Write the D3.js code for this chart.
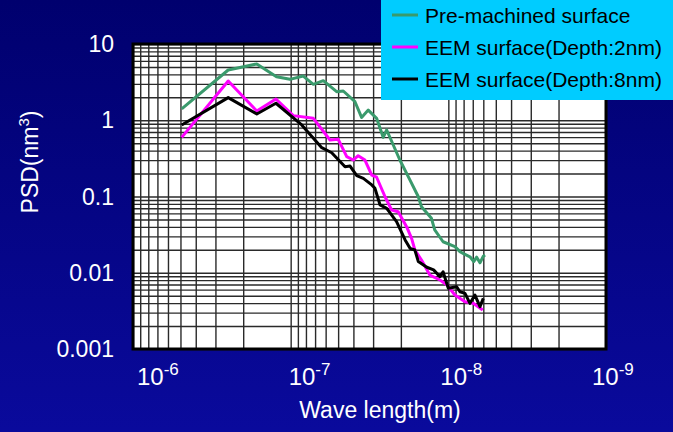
<!DOCTYPE html>
<html>
<head>
<meta charset="utf-8">
<script src="https://cdn.jsdelivr.net/npm/d3@7"></script>
<style>
  html, body { margin: 0; padding: 0; background: #00007a; }
  svg { display: block; }
  .lbl { fill: white; font-family: "Liberation Sans", sans-serif; }
  .leg { fill: black; font-family: "Liberation Sans", sans-serif; }
</style>
</head>
<body>
<div id="chart"></div>
<script>
// wave length (m) / PSD (nm^3)
var preLambda = [4.91e-7, 2.49e-7, 1.64e-7, 1.23e-7, 1.01e-7, 8.32e-8, 7.18e-8, 6.21e-8, 5.11e-8, 4.64e-8,
  3.91e-8, 3.55e-8, 3.22e-8, 2.85e-8, 2.59e-8, 2.46e-8, 2.03e-8, 1.75e-8, 1.55e-8, 1.48e-8,
  1.28e-8, 1.22e-8, 1.08e-8, 9.08e-9, 8.44e-9, 7.9e-9, 7.29e-9, 6.9e-9, 6.61e-9, 6.3e-9, 6.0e-9, 5.85e-9];
var prePSD = [1.41, 4.56, 5.47, 3.73, 3.44, 3.80, 2.96, 3.30, 2.37, 2.42,
  1.75, 1.09, 1.36, 1.06, 0.597, 0.745, 0.301, 0.164, 0.0993, 0.0735,
  0.0518, 0.0364, 0.0255, 0.0220, 0.0189, 0.0175, 0.0162, 0.0140, 0.0160, 0.0135, 0.0165, 0.0171];

var eem2Lambda = [4.91e-7, 2.49e-7, 1.64e-7, 1.24e-7, 9.62e-8, 7.18e-8, 5.63e-8, 4.99e-8, 4.41e-8, 4.01e-8,
  3.73e-8, 3.38e-8, 3.06e-8, 2.85e-8, 2.52e-8, 2.29e-8, 2.08e-8, 1.84e-8, 1.71e-8, 1.63e-8,
  1.48e-8, 1.31e-8, 1.13e-8, 1.02e-8, 9.08e-9, 7.84e-9, 6.95e-9, 6.05e-9];
var eem2PSD = [0.597, 3.27, 1.32, 1.90, 1.15, 1.06, 0.551, 0.562, 0.333, 0.301,
  0.343, 0.301, 0.191, 0.179, 0.0993, 0.0665, 0.0632, 0.0402, 0.0283, 0.0199,
  0.0147, 0.00933, 0.00803, 0.00691, 0.00510, 0.00417, 0.00397, 0.00324];

var eem8Lambda = [4.91e-7, 2.49e-7, 1.64e-7, 1.24e-7, 8.51e-8, 6.35e-8, 5.49e-8, 4.52e-8, 4.20e-8, 3.81e-8,
  3.46e-8, 3.06e-8, 2.92e-8, 2.71e-8, 2.46e-8, 2.13e-8, 1.88e-8, 1.75e-8, 1.63e-8, 1.55e-8,
  1.37e-8, 1.24e-8, 1.13e-8, 1.08e-8, 1.00e-8, 8.85e-9, 8.44e-9, 7.84e-9, 7.29e-9, 6.78e-9,
  6.30e-9, 6.00e-9];
var eem8PSD = [0.867, 1.98, 1.21, 1.67, 0.867, 0.437, 0.375, 0.246, 0.251, 0.188,
  0.173, 0.142, 0.128, 0.0775, 0.0700, 0.0468, 0.0269, 0.0209, 0.0199, 0.0140,
  0.0118, 0.0109, 0.00888, 0.0103, 0.00625, 0.00656, 0.00564, 0.00537, 0.00397, 0.00510,
  0.00359, 0.00462];

var seriesNames = ["Pre-machined surface", "EEM surface(Depth:2nm)", "EEM surface(Depth:8nm)"];
var seriesColors = ["#3a9a6c", "#ff00ff", "#000000"];
var xTickExp = [-6, -7, -8, -9];
var yTickVals = [10, 1, 0.1, 0.01, 0.001];
var yTickText = ["10", "1", "0.1", "0.01", "0.001"];

var svgWidth = 673, svgHeight = 432;
var margin = { top: 44, right: 67, bottom: 83, left: 133 };
var width = svgWidth - margin.left - margin.right;
var height = svgHeight - margin.top - margin.bottom;

var svg = d3.select("#chart").append("svg")
  .attr("width", svgWidth)
  .attr("height", svgHeight);

var grad = svg.append("defs").append("linearGradient")
  .attr("id", "bg").attr("x1", 0).attr("y1", 0).attr("x2", 0).attr("y2", 1);
grad.append("stop").attr("offset", "0%").attr("stop-color", "#00006e");
grad.append("stop").attr("offset", "100%").attr("stop-color", "#0a0a9c");

svg.append("rect").attr("width", svgWidth).attr("height", svgHeight).attr("fill", "url(#bg)");

var chartGroup = svg.append("g")
  .attr("transform", `translate(${margin.left}, ${margin.top})`);

var xScale = d3.scaleLog().domain([1e-6, 1e-9]).range([0, width]);
var yScale = d3.scaleLog().domain([0.001, 10]).range([height, 0]);

chartGroup.append("rect").attr("width", width).attr("height", height).attr("fill", "white");

// grid lines (1..9 per decade)
chartGroup.append("g")
  .attr("transform", `translate(0, ${height})`)
  .call(d3.axisBottom(xScale).ticks(30).tickSize(-height).tickFormat(""))
  .call(g => g.select(".domain").remove())
  .selectAll("line").attr("stroke", "#2a2a2a").attr("stroke-width", 1.4);

chartGroup.append("g")
  .call(d3.axisLeft(yScale).ticks(40).tickSize(-width).tickFormat(""))
  .call(g => g.select(".domain").remove())
  .selectAll("line").attr("stroke", "#2a2a2a").attr("stroke-width", 1.4);

// curves
var lineGen = d3.line().x(d => xScale(d[0])).y(d => yScale(d[1]));
var allSeries = [
  d3.zip(preLambda, prePSD),
  d3.zip(eem2Lambda, eem2PSD),
  d3.zip(eem8Lambda, eem8PSD)
];
chartGroup.selectAll("path.series")
  .data(allSeries)
  .enter()
  .append("path")
  .attr("class", "series")
  .attr("d", lineGen)
  .attr("fill", "none")
  .attr("stroke", (d, i) => seriesColors[i])
  .attr("stroke-width", 3)
  .attr("stroke-linejoin", "round");

// frame
chartGroup.append("rect").attr("width", width).attr("height", height)
  .attr("fill", "none").attr("stroke", "black").attr("stroke-width", 3);

// y tick labels
svg.append("g").selectAll("text")
  .data(yTickVals)
  .enter()
  .append("text")
  .attr("class", "lbl")
  .attr("x", margin.left - 19)
  .attr("y", d => margin.top + yScale(d) + 8)
  .attr("text-anchor", "end")
  .attr("font-size", 23)
  .text((d, i) => yTickText[i]);

// x tick labels 10^n (the slide spaces them a little tighter than the decades)
var labelX = d3.scaleLinear().domain([-6, -9]).range([137, 592]);
var xl = svg.append("g").selectAll("text")
  .data(xTickExp)
  .enter()
  .append("text")
  .attr("class", "lbl")
  .attr("x", d => labelX(d))
  .attr("y", 385)
  .attr("font-size", 24);
xl.append("tspan").text("10");
xl.append("tspan").attr("dy", -10).attr("font-size", 17).text(d => d);

// axis titles
svg.append("text")
  .attr("class", "lbl")
  .attr("x", 380)
  .attr("y", 418)
  .attr("text-anchor", "middle")
  .attr("font-size", 23)
  .text("Wave length(m)");

var yt = svg.append("text")
  .attr("class", "lbl")
  .attr("transform", "translate(38, 162) rotate(-90)")
  .attr("text-anchor", "middle")
  .attr("font-size", 23);
yt.append("tspan").text("PSD(nm");
yt.append("tspan").attr("dy", -9).attr("font-size", 15).text("3");
yt.append("tspan").attr("dy", 9).text(")");

// legend
var legend = svg.append("g").attr("transform", "translate(381, 0)");
legend.append("rect").attr("width", 300).attr("height", 100).attr("fill", "#00ccff");
var items = legend.selectAll("g.item")
  .data(seriesNames)
  .enter()
  .append("g")
  .attr("class", "item")
  .attr("transform", (d, i) => `translate(0, ${15 + i * 32})`);
items.append("line")
  .attr("x1", 11).attr("x2", 37)
  .attr("stroke", (d, i) => seriesColors[i])
  .attr("stroke-width", 3);
items.append("text")
  .attr("class", "leg")
  .attr("x", 44)
  .attr("y", 8)
  .attr("font-size", 21)
  .text(d => d);
</script>
</body>
</html>
